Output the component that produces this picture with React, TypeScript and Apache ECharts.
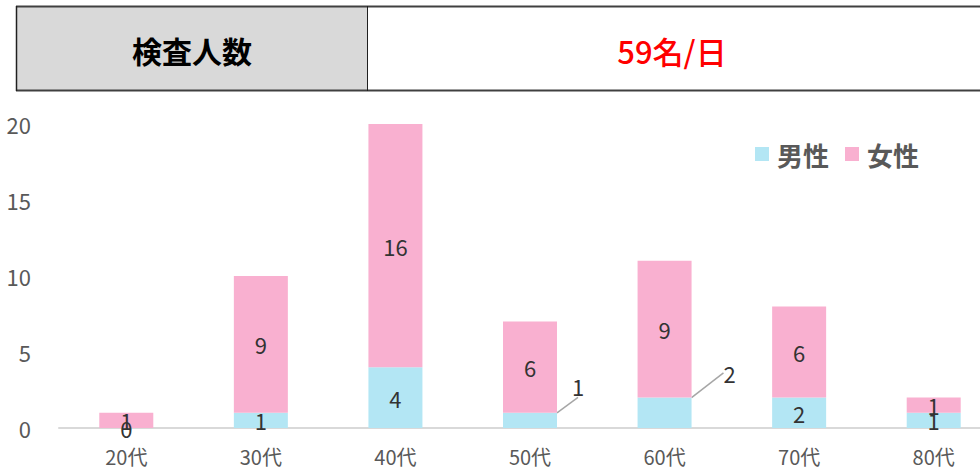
import React, { useEffect, useRef } from "react";
import * as echarts from "echarts";

const categories = ["20代", "30代", "40代", "50代", "60代", "70代", "80代"];
const maleValues = [0, 1, 4, 1, 2, 2, 1];
const femaleValues = [1, 9, 16, 6, 9, 6, 1];
const seriesNames = ["男性", "女性"];
const headerLabel = "検査人数";
const headerValue = "59名/日";

const FONT = "'Noto Sans CJK JP', 'Noto Sans', sans-serif";
const MALE_COLOR = "#b3e6f4";
const FEMALE_COLOR = "#f9b0d0";
const LABEL_COLOR = "#333333";
const AXIS_TEXT = "#595959";

export default function App() {
  const ref = useRef<HTMLDivElement>(null);
  useEffect(() => {
    if (!ref.current) return;
    const chart = echarts.init(ref.current, undefined, { renderer: "svg" });
    const movedLabels: Record<number, { dx: number; dy: number }> = {
      3: { dx: 48, dy: -34 },
      4: { dx: 65, dy: -40 },
    };
    const maleData = maleValues.map((v, i) =>
      movedLabels[i]
        ? { value: v, labelLine: { show: true, lineStyle: { color: "#a6a6a6", width: 1.5 } } }
        : { value: v }
    );
    chart.setOption({
      animation: false,
      textStyle: { fontFamily: FONT },
      graphic: [
        { type: "rect", shape: { x: 16, y: 7, width: 351, height: 83 }, style: { fill: "#d9d9d9" }, z: 1 },
        { type: "line", shape: { x1: 16, y1: 6.5, x2: 1001, y2: 6.5 }, style: { stroke: "#404040", lineWidth: 2 }, z: 2 },
        { type: "line", shape: { x1: 16, y1: 90.5, x2: 1001, y2: 90.5 }, style: { stroke: "#404040", lineWidth: 2 }, z: 2 },
        { type: "line", shape: { x1: 16.5, y1: 6, x2: 16.5, y2: 91 }, style: { stroke: "#202020", lineWidth: 1.5 }, z: 2 },
        { type: "line", shape: { x1: 367.5, y1: 6, x2: 367.5, y2: 91 }, style: { stroke: "#202020", lineWidth: 1 }, z: 2 },
        {
          type: "text", x: 192, y: 50, z: 3,
          style: { text: headerLabel, fill: "#000", font: `bold 30px ${FONT}`, align: "center", verticalAlign: "middle" },
        },
        {
          type: "text", x: 672, y: 50, z: 3,
          style: { text: headerValue, fill: "#ff0000", font: `500 31px ${FONT}`, align: "center", verticalAlign: "middle" },
        },
      ],
      legend: {
        data: seriesNames,
        left: 750,
        top: 136,
        itemWidth: 14,
        itemHeight: 14,
        itemGap: 16,
        icon: "rect",
        textStyle: { color: AXIS_TEXT, fontSize: 26, fontWeight: "bold", fontFamily: FONT, padding: [0, 0, 0, 3] },
      },
      grid: { left: 59, right: 0, top: 124, bottom: 40, containLabel: false },
      xAxis: {
        type: "category",
        data: categories,
        axisTick: { show: false },
        axisLine: { lineStyle: { color: "#d9d9d9", width: 2 } },
        axisLabel: { color: AXIS_TEXT, fontSize: 20, lineHeight: 20, margin: 18, fontFamily: FONT },
      },
      yAxis: {
        type: "value",
        min: 0,
        max: 20,
        interval: 5,
        splitLine: { show: false },
        axisLine: { show: false },
        axisTick: { show: false },
        axisLabel: { color: AXIS_TEXT, fontSize: 22, margin: 28, fontFamily: FONT },
      },
      series: [
        {
          name: seriesNames[0],
          type: "bar",
          stack: "total",
          barWidth: 54,
          itemStyle: { color: MALE_COLOR },
          label: { show: true, position: "inside", color: LABEL_COLOR, fontSize: 22, fontFamily: FONT },
          labelLayout: (params: any) => movedLabels[params.dataIndex] || {},
          data: maleData,
        },
        {
          name: seriesNames[1],
          type: "bar",
          stack: "total",
          barWidth: 54,
          itemStyle: { color: FEMALE_COLOR },
          label: { show: true, position: "inside", color: LABEL_COLOR, fontSize: 22, fontFamily: FONT },
          data: femaleValues,
        },
      ],
    });
    return () => chart.dispose();
  }, []);
  return (
    <div style={{ position: "absolute", left: 0, top: 0, width: 980, height: 468, overflow: "hidden" }}>
      <div ref={ref} style={{ width: 1001, height: 468 }} />
    </div>
  );
}
